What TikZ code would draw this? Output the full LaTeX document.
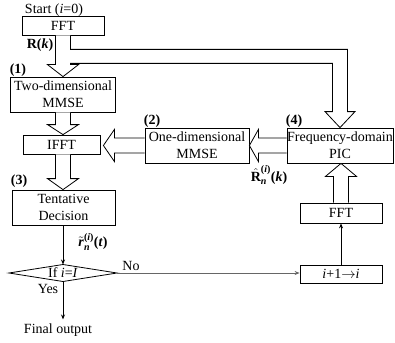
\documentclass[tikz,border=0pt]{standalone}
\usepackage{fontspec}
\setmainfont{Liberation Serif}
\usetikzlibrary{arrows.meta,calc}
\tikzset{
  txt/.style={font=\fontsize{14}{17}\selectfont, inner sep=0pt},
  box/.style={txt, draw, line width=0.8pt, align=center},
  hollow/.style={draw=black, fill=white, line width=0.8pt, line join=miter},
  thinarrow/.style={line width=0.8pt, -{Stealth[length=5pt,width=4pt]}},
  numlab/.style={txt, font=\fontsize{14}{17}\selectfont\bfseries}
}
\newcommand\scr[1]{\mbox{\fontsize{10}{10}\selectfont\bfseries #1}}
% vertical hollow arrow down: #2 start, #3 tip
\newcommand\hdown[3][11]{\draw[hollow] let \p1=#2, \p2=#3 in
  (\x1-7.5pt,\y1) -- (\x1-7.5pt,\y2+#1pt) -- (\x1-15.5pt,\y2+#1pt) -- (\x1,\y2)
  -- (\x1+15.5pt,\y2+#1pt) -- (\x1+7.5pt,\y2+#1pt) -- (\x1+7.5pt,\y1);}
\newcommand\hup[3][13]{\draw[hollow] let \p1=#2, \p2=#3 in
  (\x1-7.5pt,\y1) -- (\x1-7.5pt,\y2-#1pt) -- (\x1-15.5pt,\y2-#1pt) -- (\x1,\y2)
  -- (\x1+15.5pt,\y2-#1pt) -- (\x1+7.5pt,\y2-#1pt) -- (\x1+7.5pt,\y1);}
\newcommand\hleft[3][10]{\draw[hollow] let \p1=#2, \p2=#3 in
  (\x1,\y1+7.5pt) -- (\x2+#1pt,\y1+7.5pt) -- (\x2+#1pt,\y1+16pt) -- (\x2,\y1)
  -- (\x2+#1pt,\y1-16pt) -- (\x2+#1pt,\y1-7.5pt) -- (\x1,\y1-7.5pt);}
\begin{document}
\begin{tikzpicture}[x=1pt,y=-1pt]
\useasboundingbox (0,0) rectangle (395,342);
% nodes
\node[txt] (start) at (54,10) {Start (\textit{i}=0)};
\node[box, minimum width=82pt, minimum height=19pt] (fft1) at (63,25.5) {FFT};
\node[numlab] (rk) at (40,45) {R(\textit{k})};
\node[numlab] (n1) at (18,70) {(1)};
\node[box, minimum width=105pt, minimum height=35pt] (mmse2d) at (63,94.5) {Two-dimensional\\MMSE};
\node[box, minimum width=77pt, minimum height=19pt] (ifft) at (61.5,144.5) {IFFT};
\node[numlab] (n2) at (152,121) {(2)};
\node[box, minimum width=104pt, minimum height=35pt] (mmse1d) at (197,145.5) {One-dimensional\\MMSE};
\node[numlab] (n4) at (294,121) {(4)};
\node[box, minimum width=106pt, minimum height=35pt] (pic) at (340,145.5) {Frequency-domain\\PIC};
\node[numlab] (rhat) at (269,175) {$\hat{\mbox{\textbf{R}}}_{\scr{\textit{n}}}^{\scr{(\textit{i})}}$(\textit{k})};
\node[numlab] (n3) at (19,181) {(3)};
\node[box, minimum width=103pt, minimum height=35pt] (tent) at (63.5,207.5) {Tentative\\Decision};
\node[numlab] (rt) at (93,242) {$\tilde{\mbox{\textbf{\textit{r}}}}_{\scr{\textit{n}}}^{\scr{(\textit{i})}}$(\textit{t})};
\node[txt] (dec) at (63,273) {If \textit{i}=\textit{I}};
\coordinate (dtop) at (63,264.5);
\coordinate (dbot) at (63,281.5);
\coordinate (dleft) at (9,273);
\coordinate (dright) at (117,273);
\draw[line width=0.8pt] (dleft) -- (dtop) -- (dright) -- (dbot) -- cycle;
\node[txt] (yes) at (48,289) {Yes};
\node[txt] (no) at (131,266) {No};
\node[txt] (final) at (58,330) {Final output};
\node[box, minimum width=82pt, minimum height=18pt] (inc) at (341,274) {\textit{i}+1$\rightarrow$\textit{i}};
\node[box, minimum width=82pt, minimum height=20pt] (fft2) at (341,213) {FFT};
% hollow arrows
\draw[hollow] let \p1=(fft1.south), \p2=(pic.north), \p3=(mmse2d.north) in
  (\x1-7.5pt,\y1) -- (\x1-7.5pt,\y3+12pt) -- (\x1-15.5pt,\y3+12pt) -- (\x1,\y3)
  -- (\x1+15.5pt,\y3+12pt) -- (\x1+7.5pt,\y3+12pt) -- (\x1+7.5pt,\y1-28pt)
  -- (\x2-7.5pt,\y1-28pt) -- (\x2-7.5pt,\y2+16pt) -- (\x2-15pt,\y2+16pt) -- (\x2,\y2)
  -- (\x2+15pt,\y2+16pt) -- (\x2+7.5pt,\y2+16pt) -- (\x2+7.5pt,\y1-14pt)
  -- (\x1+7.5pt,\y1-14pt) -- (\x1+7.5pt,\y1);
\hdown[10]{(mmse2d.south)}{(mmse2d.south |- ifft.north)}
\hdown[11]{(mmse2d.south |- ifft.south)}{(mmse2d.south |- tent.north)}
\hleft[9]{(pic.west)}{(mmse1d.east)}
\hleft[11]{(mmse1d.west)}{($(ifft.east |- mmse1d.west)+(3,0)$)}
\hup[13]{(fft2.north)}{(fft2.north |- pic.south)}
% thin arrows
\draw[thinarrow] (tent.south -| dtop) -- (dtop);
\draw[thinarrow] (dbot) -- ($(dbot |- final.north)+(0,-4)$);
\draw[thinarrow, draw=black!60] (dright) -- (inc.west |- dright);
\draw[thinarrow] (inc.north) -- (fft2.south);
\end{tikzpicture}
\end{document}
